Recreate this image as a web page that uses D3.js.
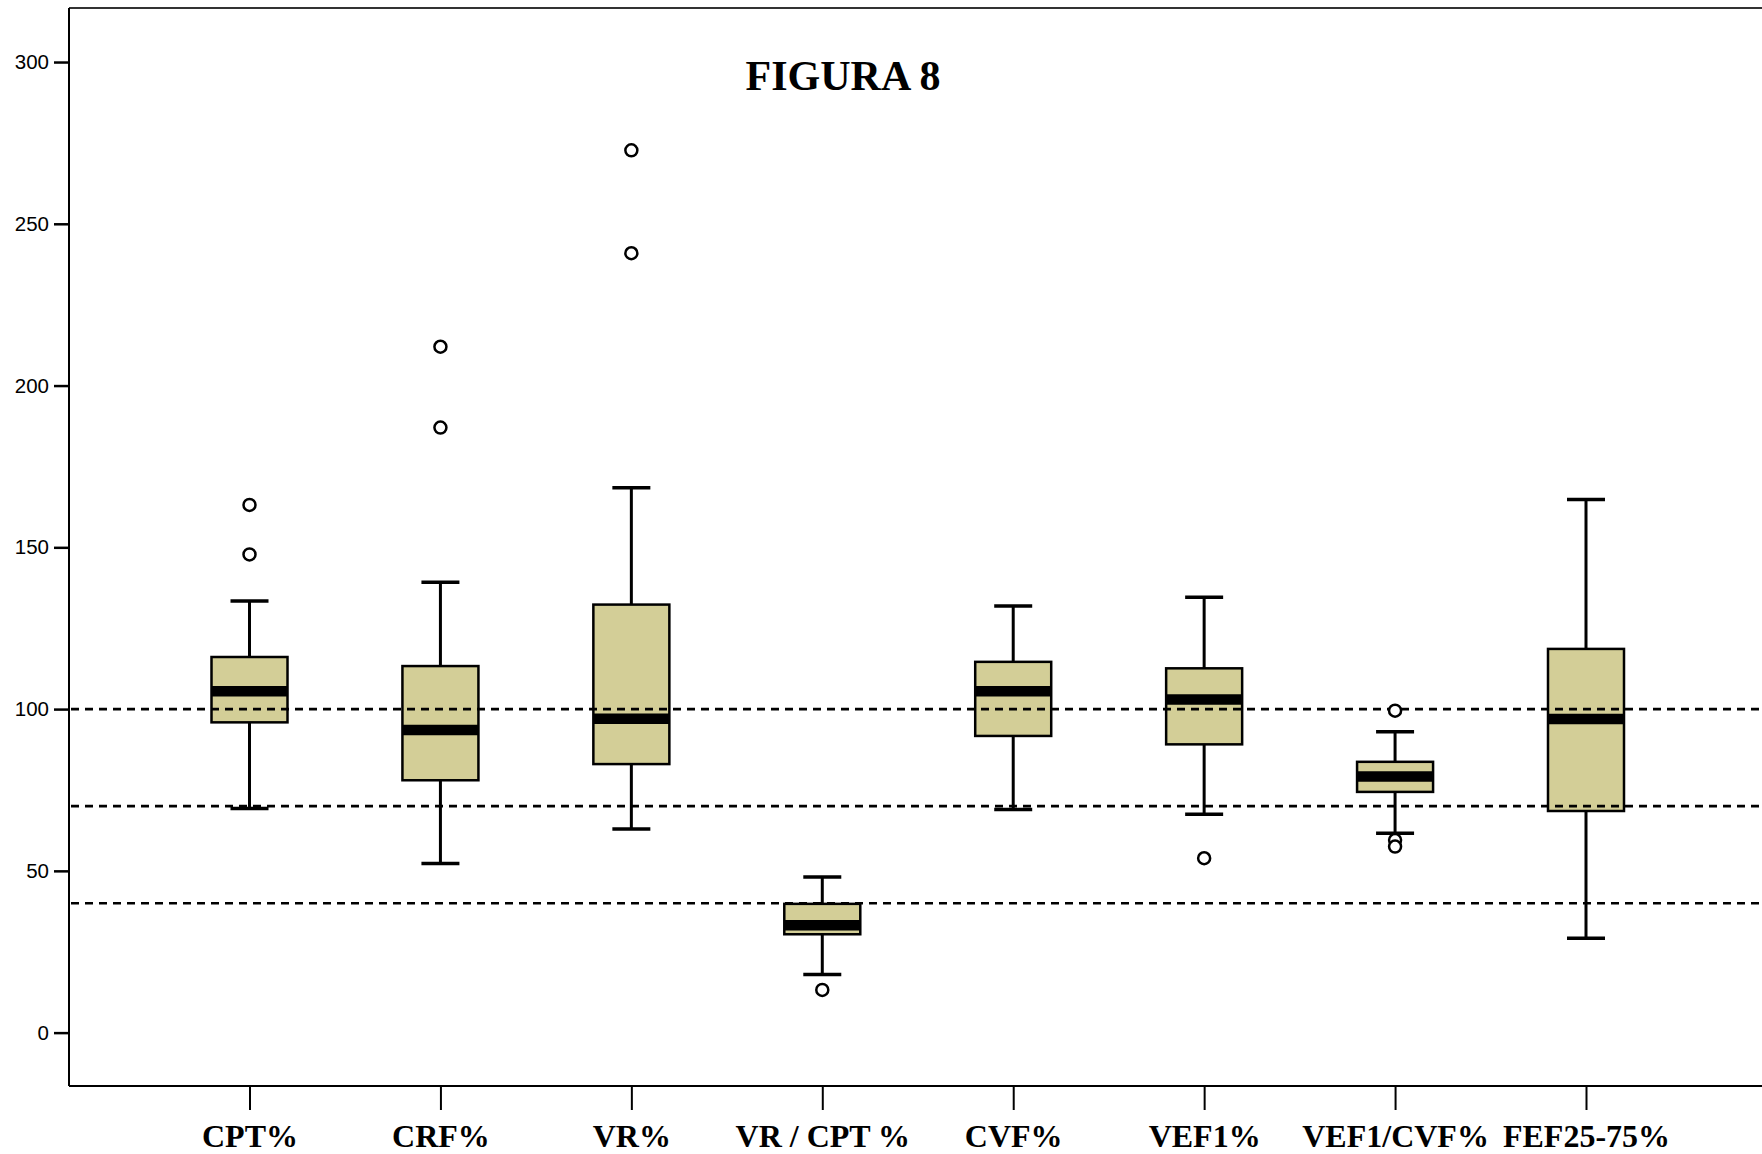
<!DOCTYPE html>
<html>
<head>
<meta charset="utf-8">
<script src="https://cdnjs.cloudflare.com/ajax/libs/d3/7.8.5/d3.min.js"></script>
<style>
  html, body { margin: 0; padding: 0; background: #fff; overflow: hidden; }
</style>
</head>
<body>
<div id="chart"></div>
<script>
const width = 1762;
const height = 1154;

// values
const categories = ["CPT%", "CRF%", "VR%", "VR / CPT %", "CVF%", "VEF1%", "VEF1/CVF%", "FEF25-75%"];
const whiskerHigh = [133.4, 139.2, 168.4, 48.1, 131.9, 134.6, 93.0, 164.8];
const q3 = [116.1, 113.3, 132.3, 39.8, 114.6, 112.6, 83.7, 118.6];
const median = [105.5, 93.5, 97.0, 33.2, 105.5, 103.0, 79.2, 96.9];
const q1 = [95.9, 78.0, 83.0, 30.4, 91.7, 89.1, 74.4, 68.5];
const whiskerLow = [69.3, 52.3, 62.9, 18.0, 69.0, 67.5, 61.6, 29.2];
const outliers = [[163.1, 147.8], [212.0, 187.0], [272.7, 240.9], [13.2], [], [53.9], [99.5, 59.5, 57.5], []];
const refLines = [100, 70, 40];
const yTicks = [0, 50, 100, 150, 200, 250, 300];

const plotLeft = 69, plotTop = 8, plotBottom = 1086;

const svg = d3.select("#chart")
  .append("svg")
  .attr("width", width)
  .attr("height", height);

const x = d3.scalePoint().domain(categories).range([249.5, 1586]);
const y = d3.scaleLinear().domain([-16.5, 316.7]).range([plotBottom, plotTop]);

const boxW = 76, capW = 38;

// frame: top border line
svg.append("line")
  .attr("x1", plotLeft).attr("x2", width)
  .attr("y1", plotTop).attr("y2", plotTop)
  .attr("stroke", "#333").attr("stroke-width", 2);

// y axis
const yAxis = svg.append("g")
  .attr("transform", `translate(${plotLeft},0)`)
  .call(d3.axisLeft(y).tickValues(yTicks).tickSize(15).tickPadding(5))
yAxis.select(".domain").remove();
yAxis.append("line").attr("x1", 0).attr("x2", 0).attr("y1", plotTop).attr("y2", plotBottom)
  .attr("stroke", "#000").attr("stroke-width", 2);
yAxis.selectAll(".tick line").attr("stroke", "#000").attr("stroke-width", 2.5);
yAxis.selectAll(".tick text")
  .attr("fill", "#000")
  .style("font-family", "'Liberation Sans', Arial, sans-serif")
  .style("font-size", "20.5px");

// x axis
const xAxis = svg.append("g")
  .attr("transform", `translate(0,${plotBottom})`)
  .call(d3.axisBottom(x).tickSize(24).tickPadding(14));
xAxis.select(".domain").remove();
xAxis.append("line").attr("x1", plotLeft).attr("x2", width).attr("y1", 0).attr("y2", 0)
  .attr("stroke", "#000").attr("stroke-width", 2);
xAxis.selectAll(".tick line").attr("stroke", "#000").attr("stroke-width", 2);
xAxis.selectAll(".tick text")
  .attr("fill", "#000")
  .style("font-family", "'Liberation Serif', 'Times New Roman', serif")
  .style("font-weight", "bold")
  .style("font-size", "32px");

// title
svg.append("text")
  .attr("x", 843).attr("y", 90)
  .attr("text-anchor", "middle")
  .style("font-family", "'Liberation Serif', 'Times New Roman', serif")
  .style("font-weight", "bold")
  .style("font-size", "42px")
  .text("FIGURA 8");

const boxes = categories.map((c, i) => ({
  cat: c, lo: whiskerLow[i], q1: q1[i], med: median[i], q3: q3[i], hi: whiskerHigh[i], out: outliers[i]
}));

const g = svg.append("g");

// whiskers
g.selectAll(".whisker")
  .data(boxes)
  .enter()
  .append("line")
  .attr("x1", d => x(d.cat)).attr("x2", d => x(d.cat))
  .attr("y1", d => y(d.lo)).attr("y2", d => y(d.hi))
  .attr("stroke", "#000").attr("stroke-width", 3);

g.selectAll(".capHi")
  .data(boxes)
  .enter()
  .append("line")
  .attr("x1", d => x(d.cat) - capW / 2).attr("x2", d => x(d.cat) + capW / 2)
  .attr("y1", d => y(d.hi)).attr("y2", d => y(d.hi))
  .attr("stroke", "#000").attr("stroke-width", 3.5);

g.selectAll(".capLo")
  .data(boxes)
  .enter()
  .append("line")
  .attr("x1", d => x(d.cat) - capW / 2).attr("x2", d => x(d.cat) + capW / 2)
  .attr("y1", d => y(d.lo)).attr("y2", d => y(d.lo))
  .attr("stroke", "#000").attr("stroke-width", 3.5);

// boxes
g.selectAll(".box")
  .data(boxes)
  .enter()
  .append("rect")
  .attr("x", d => x(d.cat) - boxW / 2)
  .attr("width", boxW)
  .attr("y", d => y(d.q3))
  .attr("height", d => y(d.q1) - y(d.q3))
  .attr("fill", "#d3ce97")
  .attr("stroke", "#000").attr("stroke-width", 2.5);

// median bands
g.selectAll(".median")
  .data(boxes)
  .enter()
  .append("line")
  .attr("x1", d => x(d.cat) - boxW / 2).attr("x2", d => x(d.cat) + boxW / 2)
  .attr("y1", d => y(d.med)).attr("y2", d => y(d.med))
  .attr("stroke", "#000").attr("stroke-width", 10.5);

// reference lines (drawn above the boxes as in the original)
svg.append("g")
  .selectAll("line")
  .data(refLines)
  .enter()
  .append("line")
  .attr("x1", plotLeft + 2).attr("x2", width)
  .attr("y1", d => y(d)).attr("y2", d => y(d))
  .attr("stroke", "#000").attr("stroke-width", 2.6)
  .attr("stroke-dasharray", "8,6");

// outliers
const pts = boxes.flatMap(d => d.out.map(v => ({cat: d.cat, v: v})));
svg.append("g")
  .selectAll("circle")
  .data(pts)
  .enter()
  .append("circle")
  .attr("cx", d => x(d.cat))
  .attr("cy", d => y(d.v))
  .attr("r", 6)
  .attr("fill", "#fff")
  .attr("stroke", "#000").attr("stroke-width", 2.5);
</script>
</body>
</html>
